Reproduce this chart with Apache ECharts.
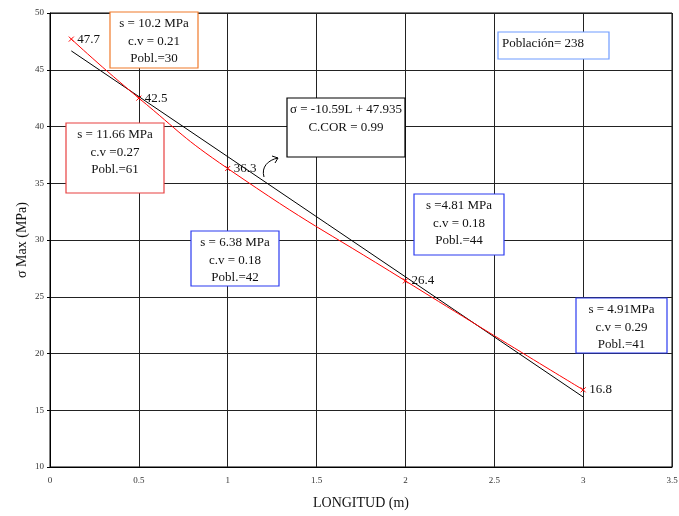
<!DOCTYPE html>
<html>
<head><meta charset="utf-8"></head>
<script type="text/javascript" src="https://cdn.jsdelivr.net/npm/echarts@6/dist/echarts.min.js"></script>
<body style="margin:0;background-color:white;">
    <div id="main" style="width:679px;height:516px;"></div>
</body>
<script>
// longitud (m) y sigma max (MPa)
var longitud = [0.12, 0.5, 1, 2, 3];
var sigmaMax = [47.7, 42.5, 36.3, 26.4, 16.8];
// recta de ajuste  sigma = -10.59L + 47.935
var ajusteX = [0.12, 3];
var ajusteY = [46.66, 16.17];

var xTicks = { min: 0, max: 3.5, interval: 0.5 };
var yTicks = { min: 10, max: 50, interval: 5 };

var serif = 'Liberation Serif';

var puntos = longitud.map(function (x, i) { return [x, sigmaMax[i]]; });
var recta = ajusteX.map(function (x, i) { return [x, ajusteY[i]]; });

// recuadro con texto (rect + text, posiciones absolutas)
function caja(x, y, w, h, txt, color, align) {
    var izq = align === 'left';
    return [
        { type: 'rect', shape: { x: x, y: y, width: w, height: h }, z: 20,
          style: { fill: '#fff', stroke: color, lineWidth: 1.2 } },
        { type: 'text', z: 21,
          style: { text: txt, font: '13px ' + serif, fill: '#111', lineHeight: 17.5,
                   x: izq ? x + 4 : x + w / 2, y: y + 3,
                   align: izq ? 'left' : 'center', verticalAlign: 'top' } }
    ];
}

var myChart = echarts.init(document.getElementById('main'));

var cajas = [].concat(
    caja(110, 12, 88, 56, 's = 10.2 MPa\nc.v = 0.21\nPobl.=30', '#f07a2a'),
    caja(66, 123, 98, 70, 's = 11.66 MPa\nc.v =0.27\nPobl.=61', '#e84040'),
    caja(287, 98, 118, 59, 'σ = -10.59L + 47.935\nC.COR = 0.99', '#000'),
    caja(191, 231, 88, 55, 's = 6.38 MPa\nc.v = 0.18\nPobl.=42', '#2b3bf0'),
    caja(414, 194, 90, 61, 's =4.81 MPa\nc.v = 0.18\nPobl.=44', '#2b3bf0'),
    caja(576, 298, 91, 55, 's = 4.91MPa\nc.v = 0.29\nPobl.=41', '#2b3bf0'),
    caja(498, 32, 111, 27, 'Población= 238', '#6f9cff', 'left')
);

var option = {
    animation: false,
    grid: { left: 50, right: 7, top: 13, bottom: 49, show: true,
            borderColor: '#000', borderWidth: 1, containLabel: false, outerBoundsMode: 'none' },
    xAxis: {
        type: 'value', min: xTicks.min, max: xTicks.max, interval: xTicks.interval,
        name: 'LONGITUD (m)', nameLocation: 'middle', nameGap: 29,
        nameTextStyle: { fontFamily: serif, fontSize: 14, color: '#111' },
        axisLine: { show: true, lineStyle: { color: '#000' } },
        axisTick: { show: false },
        axisLabel: { fontFamily: serif, fontSize: 9, color: '#333', margin: 9 },
        splitLine: { show: true, lineStyle: { color: '#222', width: 1 } }
    },
    yAxis: {
        type: 'value', min: yTicks.min, max: yTicks.max, interval: yTicks.interval,
        name: 'σ Max (MPa)', nameLocation: 'middle', nameGap: 21, nameMoveOverlap: false,
        nameTextStyle: { fontFamily: serif, fontSize: 14, color: '#111' },
        axisLine: { show: true, lineStyle: { color: '#000' } },
        axisTick: { show: true, length: 3, lineStyle: { color: '#000' } },
        axisLabel: { fontFamily: serif, fontSize: 9, color: '#333', margin: 6 },
        splitLine: { show: true, lineStyle: { color: '#222', width: 1 } }
    },
    series: [{
        type: 'line', data: recta, symbol: 'none',
        lineStyle: { color: '#000', width: 1 }, z: 2
    }, {
        type: 'line', data: puntos, smooth: 0.5,
        symbol: 'path://M0,0L10,10M10,0L0,10', symbolSize: 5,
        itemStyle: { color: '#ff0000', borderColor: '#ff0000', borderWidth: 1 },
        lineStyle: { color: '#ff0000', width: 1 },
        label: { show: true, position: 'right', distance: 3, color: '#111',
                 fontFamily: serif, fontSize: 13 },
        z: 3
    }],
    graphic: cajas.concat([
        { type: 'bezierCurve', z: 10,
          shape: { x1: 264, y1: 177, x2: 278, y2: 158, cpx1: 261, cpy1: 167, cpx2: 268, cpy2: 160 },
          style: { stroke: '#000', fill: null, lineWidth: 1 } },
        { type: 'polyline', z: 10,
          shape: { points: [[272, 156], [278, 158], [275, 163]] },
          style: { stroke: '#000', fill: null, lineWidth: 1 } }
    ])
};

option && myChart.setOption(option);
</script>
</html>
